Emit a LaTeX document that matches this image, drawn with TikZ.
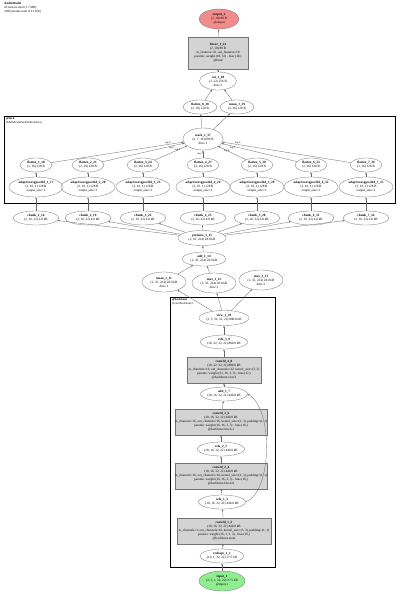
\documentclass[tikz,border=0pt]{standalone}
\usepackage{fontspec}
\setmainfont{Liberation Serif}
\usetikzlibrary{shapes.geometric,arrows.meta}
\definecolor{outred}{RGB}{242,140,140}
\definecolor{ingreen}{RGB}{144,238,144}
\definecolor{boxgray}{RGB}{211,211,211}
\tikzset{
  every node/.style={font=\fontsize{3.3}{4.0}\selectfont, align=center, text=black},
  ell/.style={ellipse, draw=black!55, line width=0.3pt, inner sep=0pt},
  opbox/.style={rectangle, draw=black!55, fill=boxgray, line width=0.3pt, inner sep=0pt},
  edge/.style={draw=black!60, line width=0.3pt, -{Stealth[length=2.2pt,width=1.6pt]}},
  clus/.style={draw=black, line width=0.9pt},
  arglbl/.style={font=\fontsize{2.6}{3}\selectfont, inner sep=0.3pt},
  clbl/.style={anchor=north west, align=left, inner sep=0pt, font=\fontsize{3.0}{3.6}\selectfont}
}
\begin{document}
\begin{tikzpicture}[x=1pt,y=-1pt]
\useasboundingbox[fill=white] (0,0) rectangle (400,594);

% header
\node[anchor=north west, align=left, inner sep=0pt, font=\fontsize{3.2}{3.9}\selectfont] (hdr) at (4,2)
  {\textbf{AudioModel}\\43 tensors total (1.7 MB)\\3200 params total (13.1 KB)};

% top part
\node[ell, fill=outred, minimum width=40pt, minimum height=20pt] (out) at (219,19)
  {\textbf{output\_1}\\(2, 10) 80 B\\@output};
\node[opbox, minimum width=60pt, minimum height=32pt] (lin) at (218,53)
  {\textbf{linear\_1\_41}\\(2, 10) 80 B\\in\_features=32, out\_features=10\\params: weight (10, 32) - bias (10,)\\@head};
\node[ell, minimum width=37pt, minimum height=18pt] (cat) at (218,81)
  {\textbf{cat\_1\_40}\\(2, 32) 256 B\\dim=1};
\node[ell, minimum width=34pt, minimum height=14pt] (fl8) at (200,107)
  {\textbf{flatten\_8\_38}\\(2, 16) 128 B};
\node[ell, minimum width=34pt, minimum height=14pt] (mn39) at (237,107)
  {\textbf{mean\_1\_39}\\(2, 16) 128 B};

% fork cluster
\draw[clus] (4,116) rectangle (395,203);
\node[clbl] (forklbl) at (6,117.5) {\textbf{@fork}\\(MultiScaleParallelBranches)};

\node[ell, minimum width=40pt, minimum height=22pt] (stk) at (203,139)
  {\textbf{stack\_1\_37}\\(2, 7, 16) 896 B\\dim=1};

% columns
\foreach \i/\x/\c/\a/\f in {1/36/16/17/18, 2/88/19/20/21, 3/143/22/23/24, 4/203/25/26/27, 5/257/28/29/30, 6/311/31/32/33, 7/366/34/35/36}{
  \node[ell, minimum width=32pt, minimum height=14pt] (fl\i) at (\x,165)
    {\textbf{flatten\_\i\_\f}\\(2, 16) 128 B};
  \node[ell, minimum width=54pt, minimum height=20pt] (ap\i) at (\x,187)
    {\textbf{adaptiveavgpool1d\_\i\_\a}\\(2, 16, 1) 128 B\\output\_size=1};
  \node[ell, minimum width=46pt, minimum height=14pt] (ch\i) at (\x,218)
    {\textbf{chunk\_\i\_\c}\\(2, 16, 32) 4.0 kB};
}

\node[ell, minimum width=48pt, minimum height=15pt] (prm) at (202,238)
  {\textbf{permute\_1\_15}\\(2, 16, 224) 28.0 kB};
\node[ell, minimum width=44pt, minimum height=14pt] (add14) at (204,259)
  {\textbf{add\_1\_14}\\(2, 32, 224) 28.0 kB};
\node[ell, minimum width=44pt, minimum height=20pt] (mn11) at (164,282)
  {\textbf{mean\_1\_11}\\(2, 32, 224) 28.0 kB\\dim=1};
\node[ell, minimum width=44pt, minimum height=20pt] (mx12) at (214,283)
  {\textbf{max\_1\_12}\\(2, 32, 224) 28.0 kB\\dim=1};
\node[ell, minimum width=44pt, minimum height=20pt] (mx13) at (261,280)
  {\textbf{max\_2\_13}\\(2, 32, 224) 28.0 kB\\dim=1};

% backbone cluster
\draw[clus] (170,297) rectangle (275,567);
\node[clbl] (bblbl) at (172,298.5) {\textbf{@backbone}\\(ConvBackbone)};

\node[ell, minimum width=50pt, minimum height=15pt] (view) at (224,318)
  {\textbf{view\_1\_10}\\(2, 5, 32, 32, 22) 880.0 kB};
\node[ell, minimum width=44pt, minimum height=14pt] (relu9) at (224,342)
  {\textbf{relu\_3\_9}\\(10, 32, 32, 22) 880.0 kB};
\node[opbox, minimum width=74pt, minimum height=26pt] (conv8) at (224,370)
  {\textbf{conv2d\_4\_8}\\(10, 32, 32, 22) 880.0 kB\\in\_channels=16, out\_channels=32, kernel\_size=(3, 3)\\params: weight (32, 16, 3, 3) - bias (32,)\\@backbone.conv3};
\node[ell, minimum width=44pt, minimum height=14pt] (add7) at (224,394)
  {\textbf{add\_1\_7}\\(10, 16, 32, 22) 440.0 kB};
\node[opbox, minimum width=88pt, minimum height=26pt] (conv6) at (221,422)
  {\textbf{conv2d\_3\_6}\\(10, 16, 32, 22) 440.0 kB\\in\_channels=16, out\_channels=16, kernel\_size=(3, 3), padding=(1, 1)\\params: weight (16, 16, 3, 3) - bias (16,)\\@backbone.block.2};
\node[ell, minimum width=44pt, minimum height=14pt] (relu5) at (221,449)
  {\textbf{relu\_2\_5}\\(10, 16, 32, 22) 440.0 kB};
\node[opbox, minimum width=88pt, minimum height=26pt] (conv4) at (221,476)
  {\textbf{conv2d\_2\_4}\\(10, 16, 32, 22) 440.0 kB\\in\_channels=16, out\_channels=16, kernel\_size=(3, 3), padding=(1, 1)\\params: weight (16, 16, 3, 3) - bias (16,)\\@backbone.block.0};
\node[ell, minimum width=44pt, minimum height=14pt] (relu3) at (222,502)
  {\textbf{relu\_1\_3}\\(10, 16, 32, 22) 440.0 kB};
\node[opbox, minimum width=94pt, minimum height=26pt] (conv2) at (224,531)
  {\textbf{conv2d\_1\_2}\\(10, 16, 32, 22) 440.0 kB\\in\_channels=1, out\_channels=16, kernel\_size=(3, 3), padding=(1, 1)\\params: weight (16, 1, 3, 3) - bias (16,)\\@backbone.stem};
\node[ell, minimum width=44pt, minimum height=14pt] (resh) at (222,556)
  {\textbf{reshape\_1\_1}\\(10, 1, 32, 22) 27.5 kB};
\node[ell, fill=ingreen, minimum width=46pt, minimum height=20pt] (inp) at (222,581)
  {\textbf{input\_1}\\(2, 5, 1, 32, 22) 27.5 kB\\@input.x};

% edges
\draw[edge] (inp) -- (resh);
\draw[edge] (resh) -- (conv2);
\draw[edge] (conv2) -- (relu3);
\draw[edge] (relu3) -- (conv4);
\draw[edge] (conv4) -- (relu5);
\draw[edge] (relu5) -- (conv6);
\draw[edge] (conv6) -- (add7);
\draw[edge] (relu3.east) .. controls (272,492) and (274,410) .. (add7.east);
\draw[edge] (add7) -- (conv8);
\draw[edge] (conv8) -- (relu9);
\draw[edge] (relu9) -- (view);
\draw[edge] (view) -- (mn11);
\draw[edge] (view) -- (mx12);
\draw[edge] (view) -- (mx13);
\draw[edge] (mn11) -- (add14);
\draw[edge] (mx12) -- (add14);
\draw[edge] (add14) -- (prm);
\foreach \i in {1,...,7}{
  \draw[edge] (prm) -- (ch\i);
  \draw[edge] (ch\i) -- (ap\i);
  \draw[edge] (ap\i) -- (fl\i);
}
\draw[edge] (fl1) -- node[arglbl, pos=0.88, above] {arg 0} (stk);
\draw[edge] (fl2) -- node[arglbl, pos=0.85, below] {arg 1} (stk);
\draw[edge] (fl3) -- node[arglbl, pos=0.8, below left] {arg 2} (stk);
\draw[edge] (fl4) -- node[arglbl, pos=0.55, left] {arg 3} (stk);
\draw[edge] (fl5) -- node[arglbl, pos=0.8, below right] {arg 4} (stk);
\draw[edge] (fl6) -- node[arglbl, pos=0.85, below] {arg 5} (stk);
\draw[edge] (fl7) -- node[arglbl, pos=0.88, above] {arg 6} (stk);
\draw[edge] (stk) -- (fl8);
\draw[edge] (stk) -- (mn39);
\draw[edge] (fl8) -- (cat);
\draw[edge] (mn39) -- (cat);
\draw[edge] (cat) -- (lin);
\draw[edge] (lin) -- (out);
\end{tikzpicture}
\end{document}
